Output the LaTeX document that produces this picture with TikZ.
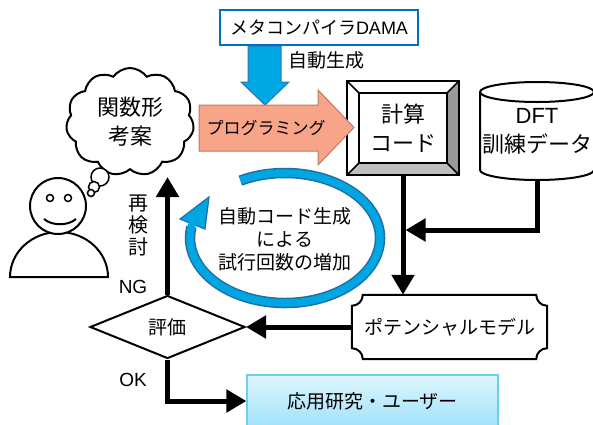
\documentclass[tikz,border=0pt]{standalone}
\usepackage{fontspec}
\setmainfont{Noto Sans CJK JP}
\newfontfamily\latinfont{Liberation Sans}
\usetikzlibrary{calc,arrows.meta,shapes.geometric,shapes.symbols}

\definecolor{damablue}{RGB}{0,112,192}
\definecolor{genblue}{RGB}{0,168,228}
\definecolor{genedge}{RGB}{40,120,180}
\definecolor{progfill}{RGB}{248,164,136}
\definecolor{progedge}{RGB}{190,120,100}
\definecolor{apptop}{RGB}{222,246,254}
\definecolor{appbot}{RGB}{160,226,249}
\definecolor{appedge}{RGB}{110,205,240}
\definecolor{loopblue}{RGB}{0,166,226}
\definecolor{loopedge}{RGB}{30,110,170}

\tikzset{
	txt/.style={font=\fontsize{19}{23}\selectfont, inner sep=0pt, align=center},
	bigtxt/.style={font=\fontsize{22}{29}\selectfont, inner sep=0pt, align=center},
	flow/.style={line width=5pt, -{Triangle[length=20pt,width=22pt]}},
	boxline/.style={line width=2pt},
}

\begin{document}
\begin{tikzpicture}[x=1pt, y=1pt]
		%%%%% START %%%%%
		\clip (0,0) rectangle (593,-424);
		\fill[white] (0,0) rectangle (593,-424);
		
		% meta compiler and its generating arrow
		\draw[line width=1pt, draw=genedge, fill=genblue] (248,-46) -- (248,-82) -- (241,-82) -- (265,-105) -- (289,-82) -- (281,-82) -- (281,-46) -- cycle;
		\node[txt, font=\fontsize{18}{22}\selectfont, draw=damablue, line width=2pt, fill=white, minimum width=198, minimum height=35] (dama) at (319,-27.5) {メタコンパイラ{\latinfont DAMA}};
		\node[txt] (autogen) at (326,-60) {自動生成};
		
		% person
		\draw[boxline, fill=white] (10,-277) arc[start angle=180, end angle=0, x radius=49, y radius=45] -- cycle;
		\draw[boxline, fill=white] (58,-206) circle (28);
		\draw[line width=1.5pt] (50,-198) circle (3.5);
		\draw[line width=1.5pt] (68,-198) circle (3.5);
		\draw[boxline] (44,-219) .. controls (52,-226) and (68,-226) .. (76,-219);
		
		% idea cloud
		\node[bigtxt, cloud, cloud puffs=11, cloud puff arc=110, aspect=1.2, draw, line width=2pt, fill=white, minimum width=128, minimum height=108] (idea) at (130,-122) {関数形\\考案};
		\draw[line width=1.5pt, fill=white] (100,-177) circle (9);
		\draw[line width=1.5pt, fill=white] (94,-187) circle (5.5);
		\draw[line width=1.5pt, fill=white] (91,-193) circle (3.5);
		
		% calculation code, beveled frame
		\node[bigtxt, minimum width=88, minimum height=70] (code) at (403,-128) {計算\\コード};
		\coordinate (cnw) at ($(code.north west)+(-12,12)$);
		\coordinate (cne) at ($(code.north east)+(12,12)$);
		\coordinate (cse) at ($(code.south east)+(12,-12)$);
		\coordinate (csw) at ($(code.south west)+(-12,-12)$);
		\fill[black!40] (cne) -- (cse) -- (code.south east) -- (code.north east) -- cycle;
		\fill[black!25] (cse) -- (csw) -- (code.south west) -- (code.south east) -- cycle;
		\draw[line width=2.5pt] (cnw) rectangle (cse);
		\draw[line width=2.5pt] (code.north west) rectangle (code.south east);
		\draw[line width=1.5pt] (cnw) -- (code.north west) (cne) -- (code.north east) (cse) -- (code.south east) (csw) -- (code.south west);
		
		% programming block arrow
		\draw[line width=1pt, draw=progedge, fill=progfill] (199,-105) -- (318,-105) -- (318,-90) -- (354,-127.5) -- (318,-165) -- (318,-151) -- (199,-151) -- cycle;
		\node[txt, font=\fontsize{17}{20}\selectfont] (prog) at (266,-128) {プログラミング};
		
		% DFT training data
		\draw[boxline, fill=white] (480,-92) -- (480,-170) arc[start angle=180, end angle=360, x radius=57, y radius=10] -- (594,-92);
		\draw[boxline] (537,-92) ellipse [x radius=57, y radius=10];
		\node[bigtxt] (dft) at (537,-131) {{\latinfont DFT}\\訓練データ};
		\coordinate (dftfoot) at (537,-180);
		
		% potential model
		\node[txt, minimum width=195, minimum height=64] (pot) at (449.5,-327) {ポテンシャルモデル};
		\draw[boxline] ($(pot.north west)+(11,0)$) -- ($(pot.north east)+(-11,0)$)
			arc[start angle=180, end angle=270, radius=11] -- ($(pot.south east)+(0,11)$)
			arc[start angle=90, end angle=180, radius=11] -- ($(pot.south west)+(11,0)$)
			arc[start angle=0, end angle=90, radius=11] -- ($(pot.north west)+(0,-11)$)
			arc[start angle=270, end angle=360, radius=11] -- cycle;
		
		% evaluation
		\node[txt, diamond, draw, line width=2pt, aspect=2.46, minimum width=155, minimum height=63] (eval) at (167.5,-327) {評価};
		
		% applications
		\node[txt, draw=appedge, line width=1.2pt, top color=apptop, bottom color=appbot, minimum width=251, minimum height=52] (app) at (372.5,-401) {応用研究・ユーザー};
		
		% main flow
		\coordinate (join) at (403,-230);
		\coordinate (ideatip) at (167.5,-177);
		\draw[flow] ($(code.south)+(0,-12)$) -- (code.south |- pot.north);
		\draw[flow] (dftfoot) |- ([xshift=2.5pt]join);
		\draw[flow] (pot.west) -- (eval.east);
		\draw[flow] (eval.north) -- (ideatip);
		\draw[flow] (eval.south) |- (app.west);
		
		\node[txt] (ng) at (133,-287) {\latinfont NG};
		\node[txt] (ok) at (133,-380) {\latinfont OK};
		\node[txt, font=\fontsize{20}{22}\selectfont] (recheck) at (138,-225) {再\\検\\討};
		
		% trial loop
		\coordinate (loopc) at (285,-238);
		\draw[line width=10.5pt, loopedge] ($(loopc)+(118:95 and 65)$) arc[start angle=118, end angle=-190, x radius=95, y radius=65];
		\filldraw[fill=loopblue, draw=loopedge, line width=1.2pt] (180,-219) -- (209,-197) -- (205,-229) -- cycle;
		\draw[line width=7.5pt, loopblue] ($(loopc)+(118:95 and 65)$) arc[start angle=118, end angle=-194, x radius=95, y radius=65];
		\node[txt] (loopnote) at (285,-239) {自動コード生成\\による\\試行回数の増加};
		
		%%%%% END %%%%%
\end{tikzpicture}
\end{document}
